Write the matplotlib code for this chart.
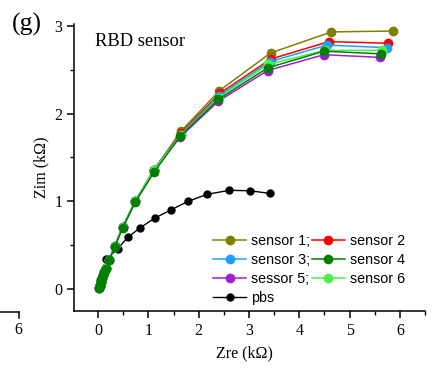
import matplotlib
matplotlib.use('Agg')
import matplotlib.pyplot as plt
from matplotlib.ticker import MultipleLocator
from matplotlib.lines import Line2D

# high-frequency cluster shared by all sensors
x_hf = [0.02, 0.03, 0.04, 0.05, 0.06, 0.08, 0.10, 0.12, 0.16, 0.22, 0.33, 0.49, 0.74, 1.11]
y_hf = [0.01, 0.03, 0.05, 0.08, 0.10, 0.13, 0.16, 0.19, 0.24, 0.33, 0.49, 0.71, 1.00, 1.36]

s1_x = x_hf + [1.65, 2.41, 3.43, 4.64, 5.86]
s1_y = y_hf + [1.80, 2.26, 2.69, 2.93, 2.94]
s2_x = x_hf + [1.65, 2.42, 3.43, 4.59, 5.77]
s2_y = y_hf + [1.78, 2.23, 2.62, 2.82, 2.80]
s3_x = x_hf + [1.64, 2.40, 3.41, 4.55, 5.75]
s3_y = y_hf + [1.76, 2.20, 2.59, 2.78, 2.75]
s4_x = x_hf + [1.63, 2.39, 3.37, 4.49, 5.62]
s4_y = [0.01, 0.03, 0.05, 0.08, 0.10, 0.13, 0.16, 0.19, 0.23, 0.33, 0.48, 0.70, 0.99, 1.33] + [1.74, 2.16, 2.52, 2.71, 2.68]
s5_x = x_hf + [1.63, 2.39, 3.37, 4.49, 5.60]
s5_y = y_hf + [1.73, 2.14, 2.49, 2.67, 2.64]
s6_x = x_hf + [1.64, 2.40, 3.38, 4.51, 5.64]
s6_y = y_hf + [1.75, 2.18, 2.56, 2.72, 2.72]

pbs_x = [0.03, 0.05, 0.08, 0.12, 0.16, 0.39, 0.59, 0.84, 1.13, 1.44, 1.79, 2.17, 2.61, 3.02, 3.41]
pbs_y = [0.03, 0.08, 0.13, 0.20, 0.34, 0.46, 0.59, 0.70, 0.81, 0.90, 1.00, 1.08, 1.125, 1.12, 1.09]

serif = 'Liberation Serif'
sans = 'Liberation Sans'

fig = plt.figure(figsize=(4.34, 3.77), dpi=100)
ax = fig.add_axes([74/434, 1-311/377, (425-74)/434, (311-24)/377])

ms = 6
lw = 1.1
hp, = ax.plot(pbs_x, pbs_y, '-o', color='black', ms=5, lw=1.0, label='pbs')
h1, = ax.plot(s1_x, s1_y, '-o', color='#808000', ms=ms, lw=lw, label='sensor 1;')
h2, = ax.plot(s2_x, s2_y, '-o', color='#FF0000', ms=ms, lw=lw, label='sensor 2')
h3, = ax.plot(s3_x, s3_y, '-o', color='#1E9FFF', ms=ms, lw=lw, label='sensor 3;')
h5, = ax.plot(s5_x, s5_y, '-o', color='#A020D0', ms=ms, lw=lw, label='sessor 5;')
h6, = ax.plot(s6_x, s6_y, '-o', color='#4CF04C', ms=ms, lw=lw, label='sensor 6')
h4, = ax.plot(s4_x, s4_y, '-o', color='#008000', ms=ms, lw=lw, label='sensor 4')

ax.set_xlim(-0.48, 6.5)
ax.set_ylim(-0.25, 3.02)
ax.xaxis.set_major_locator(MultipleLocator(1))
ax.xaxis.set_minor_locator(MultipleLocator(0.5))
ax.yaxis.set_major_locator(MultipleLocator(1))
ax.yaxis.set_minor_locator(MultipleLocator(0.5))
ax.spines['top'].set_visible(False)
ax.spines['right'].set_visible(False)
for s in ['left', 'bottom']:
    ax.spines[s].set_linewidth(1.1)
ax.tick_params(which='major', direction='out', length=5, width=1.1, labelsize=11.5)
ax.tick_params(which='minor', direction='out', length=3, width=1.0)
for lab in ax.get_xticklabels() + ax.get_yticklabels():
    lab.set_fontfamily(serif)

ax.set_xlabel('Zre (k\u03a9)', fontfamily=serif, fontsize=11.5)
ax.set_ylabel('Zim (k\u03a9)', fontfamily=serif, fontsize=11.5)
ax.xaxis.set_label_coords(0.487, -0.12)
ax.yaxis.set_label_coords(-0.07, 0.5)

ax.text(0.06, 0.94, 'RBD sensor', transform=ax.transAxes, fontfamily=serif,
        fontsize=13.3, va='center', ha='left')
fig.text(12/434, 1-24/377, '(g)', fontfamily=serif, fontsize=18.5, va='center', ha='left')

leg = ax.legend(handles=[h1, h3, h5, hp, h2, h4, h6], ncol=2, frameon=False,
                loc='upper left', bbox_to_anchor=(0.397, 0.27),
                prop={'family': sans, 'size': 10.3}, handlelength=2.3,
                handletextpad=0.35, columnspacing=0.1, labelspacing=0.35,
                borderpad=0, borderaxespad=0)

# fragment of the neighbouring panel's axis
fig.add_artist(Line2D([0, 18.5/434], [1-312/377, 1-312/377], color='black', lw=1.1))
fig.add_artist(Line2D([18.5/434, 18.5/434], [1-312/377, 1-318/377], color='black', lw=1.1))
fig.text(18.5/434, 1-330/377, '6', fontfamily=serif, fontsize=11.5, ha='center', va='center')

plt.savefig('out.png', dpi=100)
